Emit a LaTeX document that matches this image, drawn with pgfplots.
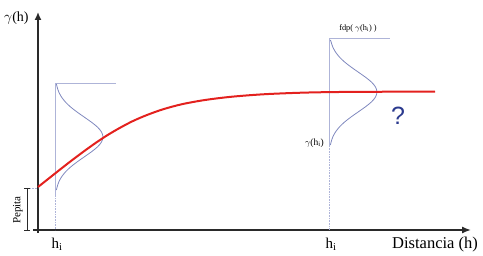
\documentclass[border=0pt]{standalone}
\usepackage{pgfplots}
\pgfplotsset{compat=1.18}
\usepackage{fontspec}
\setmainfont{Liberation Serif}
\newfontfamily\qfont{Liberation Sans}
\usetikzlibrary{arrows.meta}
\definecolor{redc}{HTML}{E3211E}
\definecolor{bell}{HTML}{7F88BE}
\definecolor{vline}{HTML}{AEB4D8}
\definecolor{qblue}{HTML}{2B3A8E}
\definecolor{axc}{HTML}{2A2A2A}
\begin{document}
\begin{tikzpicture}
\begin{axis}[width=483pt,height=256pt,scale only axis,hide axis,
  xmin=0,xmax=483,ymin=0,ymax=256,y dir=reverse,clip=false]
% axes
\addplot[axc,line width=1.4pt,-{Latex[length=8pt,width=7pt]}] coordinates {(38,233) (38,12)};
\addplot[axc,line width=1.4pt,-{Latex[length=9pt,width=7pt]}] coordinates {(33,230) (471,230)};
% dotted verticals
\addplot[vline,densely dotted,line width=0.6pt] coordinates {(55,190) (55,230)};
\addplot[vline,densely dotted,line width=0.6pt] coordinates {(329,146) (329,230)};
% pepita bracket
\addplot[axc,line width=0.6pt] coordinates {(27,188) (27,230)};
\addplot[axc,line width=0.6pt] coordinates {(24,188) (30,188)};
\addplot[axc,line width=0.6pt] coordinates {(24,230) (30,230)};
\addplot[vline,densely dotted,line width=0.6pt] coordinates {(30,188) (38,188)};
% left distribution
\addplot[vline,line width=0.7pt] coordinates {(55,196) (55,83) (116,83)};
\addplot[bell,line width=0.8pt,smooth] coordinates {
(56.4,84)(57.1,87)(58.8,92)(61.5,97)(65.4,102)(70.6,107)(77,112)(84.1,117)(91.2,122)(97.4,127)(101.5,132)(103,137)
(101.5,142)(97.4,147)(91.2,152)(84.1,157)(77,162)(70.6,167)(65.4,172)(61.5,177)(58.8,182)(57.1,187)(56.4,190)};
% right distribution
\addplot[vline,line width=0.7pt] coordinates {(329,147) (329,38) (390,38)};
\addplot[bell,line width=0.8pt,smooth] coordinates {
(330.4,40)(331.1,42)(332.8,47)(335.5,52)(339.4,57)(344.6,62)(351,67)(358.1,72)(365.2,77)(371.4,82)(375.5,87)(377,92)
(375.5,97)(371.4,102)(365.2,107)(358.1,112)(351,117)(344.6,122)(339.4,127)(335.5,132)(332.8,137)(331.1,142)(330.4,145)};
% variogram
\addplot[redc,line width=2pt,smooth] coordinates {
(38,187)(50,177.5)(62,168)(74,158.7)(86,149.8)(97,142)(108,134.8)(120,127.8)(133,121)(147,115)(163,109.3)
(182,104.2)(205,100)(232,96.7)(265,94.2)(305,92.6)(350,91.9)(435,91.6)};
% labels
\node[anchor=west,inner sep=0pt,font=\fontsize{14}{15}\selectfont] at (axis cs:4,18) {$\gamma$(h)};
\node[font=\fontsize{15}{16}\selectfont] at (axis cs:57,244) {h$_\mathrm{i}$};
\node[font=\fontsize{15}{16}\selectfont] at (axis cs:331,244) {h$_\mathrm{i}$};
\node[anchor=west,inner sep=0pt,font=\fontsize{16.5}{18}\selectfont] at (axis cs:392,245) {Distancia (h)};
\node[rotate=90,font=\fontsize{11}{12}\selectfont] at (axis cs:18,210) {Pepita};
\node[font=\fontsize{8.3}{9}\selectfont] at (axis cs:358,28) {fdp( $\gamma$(h$_\mathrm{i}$) )};
\node[anchor=east,inner sep=0pt,font=\fontsize{9.5}{10}\selectfont] at (axis cs:324,143) {$\gamma$(h$_\mathrm{i}$)};
\node[text=qblue,font=\qfont\fontsize{25}{27}\selectfont] at (axis cs:398,116) {?};
\coordinate (bl) at (axis cs:0,256);
\coordinate (tr) at (axis cs:483,0);
\end{axis}
\pgfresetboundingbox
\path (bl) rectangle (tr);
\end{tikzpicture}
\end{document}
